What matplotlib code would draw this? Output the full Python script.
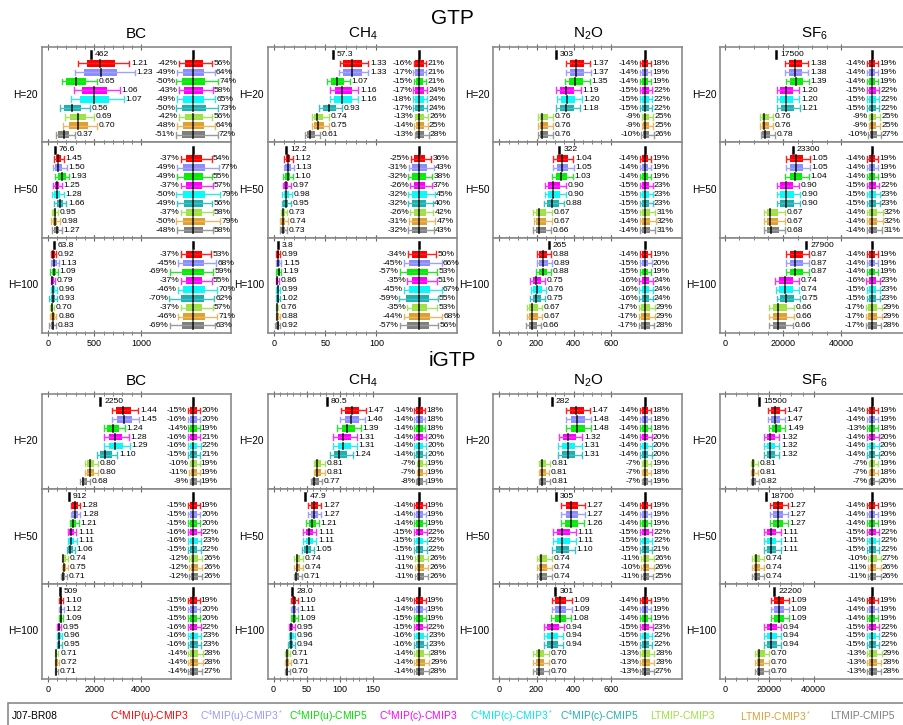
import matplotlib.pyplot as plt
from matplotlib import font_manager
from matplotlib.patches import Rectangle
from matplotlib.transforms import blended_transform_factory

W, H = 904, 725

installed = {f.name for f in font_manager.fontManager.ttflist}
NARROW = 'Liberation Sans Narrow' if 'Liberation Sans Narrow' in installed else 'Liberation Sans'
plt.rcParams['font.family'] = ['Liberation Sans', 'DejaVu Sans']
plt.rcParams['mathtext.fontset'] = 'custom'
plt.rcParams['mathtext.rm'] = 'Liberation Sans'
plt.rcParams['mathtext.it'] = 'Liberation Sans'

# ---------------------------------------------------------------- data
labels = ['J07-BR08', r'C$^4$MIP(u)-CMIP3', r'C$^4$MIP(u)-CMIP3$^*$', r'C$^4$MIP(u)-CMIP5',
          r'C$^4$MIP(c)-CMIP3', r'C$^4$MIP(c)-CMIP3$^*$', r'C$^4$MIP(c)-CMIP5',
          'LTMIP-CMIP3', r'LTMIP-CMIP3$^*$', 'LTMIP-CMIP5']
horizons = ['H=20', 'H=50', 'H=100']

# reference (J07-BR08) values, one per horizon
gtp_bc_ref = ['462', '76.6', '63.8']
gtp_ch4_ref = ['57.3', '12.2', '3.8']
gtp_n2o_ref = ['303', '322', '265']
gtp_sf6_ref = ['17500', '23300', '27900']
igtp_bc_ref = ['2250', '912', '509']
igtp_ch4_ref = ['80.5', '47.9', '28.0']
igtp_n2o_ref = ['282', '305', '301']
igtp_sf6_ref = ['15500', '18700', '22200']

# model median / reference
gtp_bc_ratio = [[1.21, 1.23, 0.65, 1.06, 1.07, 0.56, 0.69, 0.70, 0.37],
                [1.45, 1.50, 1.93, 1.25, 1.28, 1.66, 0.95, 0.98, 1.27],
                [0.92, 1.13, 1.09, 0.79, 0.96, 0.93, 0.70, 0.86, 0.83]]
gtp_ch4_ratio = [[1.33, 1.33, 1.07, 1.16, 1.16, 0.93, 0.74, 0.75, 0.61],
                 [1.12, 1.13, 1.10, 0.97, 0.98, 0.95, 0.73, 0.74, 0.73],
                 [0.99, 1.15, 1.19, 0.86, 0.99, 1.02, 0.76, 0.88, 0.92]]
gtp_n2o_ratio = [[1.37, 1.37, 1.35, 1.19, 1.20, 1.18, 0.76, 0.76, 0.76],
                 [1.04, 1.05, 1.03, 0.90, 0.90, 0.88, 0.67, 0.67, 0.66],
                 [0.88, 0.89, 0.88, 0.75, 0.76, 0.75, 0.67, 0.67, 0.66]]
gtp_sf6_ratio = [[1.38, 1.38, 1.39, 1.20, 1.20, 1.21, 0.76, 0.76, 0.78],
                 [1.05, 1.05, 1.04, 0.90, 0.90, 0.90, 0.67, 0.67, 0.68],
                 [0.87, 0.87, 0.87, 0.74, 0.74, 0.75, 0.66, 0.66, 0.66]]
igtp_bc_ratio = [[1.44, 1.45, 1.24, 1.28, 1.29, 1.10, 0.80, 0.80, 0.68],
                 [1.28, 1.28, 1.21, 1.11, 1.11, 1.06, 0.74, 0.75, 0.71],
                 [1.10, 1.12, 1.09, 0.95, 0.96, 0.95, 0.71, 0.72, 0.71]]
igtp_ch4_ratio = [[1.47, 1.46, 1.39, 1.31, 1.31, 1.24, 0.81, 0.81, 0.77],
                  [1.27, 1.27, 1.21, 1.11, 1.11, 1.05, 0.74, 0.74, 0.71],
                  [1.10, 1.11, 1.09, 0.95, 0.96, 0.94, 0.71, 0.71, 0.70]]
igtp_n2o_ratio = [[1.47, 1.48, 1.48, 1.32, 1.31, 1.31, 0.81, 0.81, 0.81],
                  [1.27, 1.27, 1.26, 1.11, 1.11, 1.10, 0.74, 0.74, 0.74],
                  [1.09, 1.09, 1.08, 0.94, 0.94, 0.94, 0.70, 0.70, 0.70]]
igtp_sf6_ratio = [[1.47, 1.47, 1.49, 1.32, 1.32, 1.32, 0.81, 0.81, 0.82],
                  [1.27, 1.27, 1.27, 1.11, 1.11, 1.11, 0.74, 0.74, 0.74],
                  [1.09, 1.09, 1.09, 0.94, 0.94, 0.94, 0.70, 0.70, 0.70]]

# whisker range relative to the median (%)
gtp_bc_lo = [[-42, -49, -50, -43, -49, -50, -42, -48, -51],
             [-37, -49, -49, -37, -50, -49, -37, -50, -48],
             [-37, -45, -69, -37, -46, -70, -37, -46, -69]]
gtp_bc_hi = [[56, 64, 74, 58, 65, 73, 56, 64, 72],
             [54, 77, 55, 57, 79, 56, 58, 79, 58],
             [53, 68, 59, 55, 70, 62, 57, 71, 63]]
gtp_ch4_lo = [[-16, -17, -15, -17, -18, -17, -13, -14, -13],
              [-25, -31, -32, -26, -32, -32, -26, -31, -32],
              [-34, -45, -57, -35, -45, -59, -35, -44, -57]]
gtp_ch4_hi = [[21, 21, 21, 24, 24, 24, 26, 25, 28],
              [36, 43, 38, 37, 45, 40, 42, 47, 43],
              [50, 66, 53, 51, 67, 55, 53, 68, 56]]
gtp_n2o_lo = [[-14, -14, -14, -15, -15, -15, -9, -9, -10],
              [-14, -14, -14, -15, -15, -15, -15, -14, -14],
              [-14, -15, -15, -16, -16, -16, -17, -17, -17]]
gtp_n2o_hi = [[18, 19, 19, 22, 22, 22, 25, 25, 26],
              [19, 19, 19, 23, 23, 23, 31, 32, 31],
              [19, 20, 19, 24, 24, 24, 29, 29, 28]]
gtp_sf6_lo = [[-14, -14, -14, -15, -15, -15, -9, -9, -10],
              [-14, -14, -14, -15, -15, -15, -14, -14, -14],
              [-14, -14, -14, -16, -15, -15, -17, -17, -17]]
gtp_sf6_hi = [[19, 19, 19, 22, 22, 22, 25, 25, 27],
              [19, 19, 19, 22, 23, 23, 32, 32, 31],
              [19, 19, 19, 23, 23, 23, 29, 29, 28]]
igtp_bc_lo = [[-15, -16, -14, -16, -16, -15, -10, -11, -9],
              [-15, -15, -15, -16, -16, -15, -12, -12, -12],
              [-15, -15, -15, -16, -16, -16, -14, -14, -14]]
igtp_bc_hi = [[20, 20, 19, 21, 22, 21, 19, 19, 19],
              [19, 20, 20, 22, 23, 22, 26, 26, 26],
              [19, 20, 20, 22, 23, 23, 28, 28, 27]]
igtp_ch4_lo = [[-14, -14, -14, -14, -14, -14, -7, -7, -8],
               [-14, -14, -14, -15, -15, -15, -11, -11, -11],
               [-14, -14, -15, -15, -16, -16, -14, -14, -14]]
igtp_ch4_hi = [[18, 18, 18, 20, 20, 20, 19, 19, 19],
               [19, 19, 19, 22, 22, 22, 26, 26, 26],
               [19, 19, 19, 22, 23, 23, 28, 29, 28]]
igtp_n2o_lo = [[-14, -14, -14, -14, -14, -14, -7, -7, -7],
               [-14, -14, -14, -15, -15, -15, -11, -10, -11],
               [-14, -14, -14, -15, -15, -15, -13, -13, -13]]
igtp_n2o_hi = [[18, 18, 18, 20, 20, 20, 19, 18, 19],
               [19, 19, 19, 22, 22, 21, 26, 26, 25],
               [19, 19, 19, 23, 22, 22, 28, 28, 27]]
igtp_sf6_lo = [[-14, -14, -13, -14, -14, -14, -7, -7, -7],
               [-14, -14, -14, -15, -15, -15, -10, -11, -11],
               [-14, -14, -14, -15, -15, -15, -13, -13, -13]]
igtp_sf6_hi = [[19, 19, 18, 20, 20, 20, 19, 18, 20],
               [19, 19, 19, 22, 22, 22, 27, 26, 26],
               [19, 19, 19, 22, 22, 22, 29, 28, 28]]

# inner box range relative to the median (%)
gtp_bc_blo = [[-24, -31, -34, -26, -31, -34, -24, -31, -34],
              [-20, -31, -26, -20, -31, -26, -20, -31, -26],
              [-22, -29, -34, -22, -29, -37, -22, -29, -34]]
gtp_bc_bhi = [[29, 31, 36, 29, 32, 37, 29, 32, 34],
              [25, 34, 29, 25, 36, 29, 25, 36, 29],
              [25, 32, 31, 25, 34, 31, 25, 34, 31]]
gtp_ch4_blo = [[-11, -11, -10, -11, -12, -11, -8, -9, -8],
               [-15, -20, -20, -15, -20, -20, -15, -20, -20],
               [-21, -29, -37, -22, -29, -40, -22, -30, -37]]
gtp_ch4_bhi = [[13, 13, 12, 14, 14, 14, 14, 14, 15],
               [17, 22, 19, 17, 24, 20, 19, 24, 22],
               [22, 31, 26, 22, 33, 28, 23, 33, 28]]
gtp_n2o_blo = [[-8, -8, -8, -9, -9, -9, -5, -5, -6],
               [-8, -8, -8, -9, -9, -9, -9, -8, -8],
               [-8, -9, -9, -9, -9, -9, -10, -10, -10]]
gtp_n2o_bhi = [[10, 10, 10, 12, 12, 12, 13, 13, 14],
               [10, 10, 10, 13, 13, 13, 17, 17, 17],
               [10, 11, 10, 13, 13, 13, 16, 16, 15]]
gtp_sf6_blo = [[-8, -8, -8, -9, -9, -9, -5, -5, -6],
               [-8, -8, -8, -9, -9, -9, -8, -8, -8],
               [-8, -8, -8, -9, -9, -9, -10, -10, -10]]
gtp_sf6_bhi = [[10, 10, 10, 12, 12, 12, 13, 13, 15],
               [10, 10, 10, 12, 13, 13, 17, 17, 17],
               [10, 10, 10, 13, 13, 13, 16, 16, 15]]
igtp_bc_blo = [[-9, -9, -8, -9, -9, -9, -6, -6, -5],
               [-9, -9, -9, -9, -9, -9, -7, -7, -7],
               [-9, -9, -9, -9, -9, -9, -8, -8, -8]]
igtp_bc_bhi = [[11, 11, 10, 11, 12, 11, 10, 10, 10],
               [10, 11, 11, 12, 13, 12, 14, 14, 14],
               [10, 11, 11, 12, 13, 13, 15, 15, 15]]
igtp_ch4_blo = [[-8, -8, -8, -8, -8, -8, -4, -4, -5],
                [-8, -8, -8, -9, -9, -9, -6, -6, -6],
                [-8, -8, -9, -9, -9, -9, -8, -8, -8]]
igtp_ch4_bhi = [[10, 10, 10, 11, 11, 11, 10, 10, 10],
                [10, 10, 10, 12, 12, 12, 14, 14, 14],
                [10, 10, 10, 12, 13, 13, 15, 16, 15]]
igtp_n2o_blo = [[-8, -8, -8, -8, -8, -8, -4, -4, -4],
                [-8, -8, -8, -9, -9, -9, -6, -6, -6],
                [-8, -8, -8, -9, -9, -9, -7, -7, -7]]
igtp_n2o_bhi = [[10, 10, 10, 11, 11, 11, 10, 10, 10],
                [10, 10, 10, 12, 12, 12, 14, 14, 14],
                [10, 10, 10, 13, 12, 12, 15, 15, 15]]
igtp_sf6_blo = [[-8, -8, -8, -8, -8, -8, -4, -4, -4],
                [-8, -8, -8, -9, -9, -9, -6, -6, -6],
                [-8, -8, -8, -9, -9, -9, -7, -7, -7]]
igtp_sf6_bhi = [[10, 10, 10, 11, 11, 11, 10, 10, 11],
                [10, 10, 10, 12, 12, 12, 15, 14, 14],
                [10, 10, 10, 12, 12, 12, 16, 15, 15]]

# ---------------------------------------------------------------- style
box_colors = ['#000000', '#ff0000', '#8c8cff', '#00f000', '#ff00ff',
              '#00ffff', '#1eb0b0', '#a0e040', '#e0a030', '#7f7f7f']
whisk_colors = ['#000000', '#ff2020', '#a0a0ff', '#30e030', '#ff30ff',
                '#30e8e8', '#40c0c0', '#a8e060', '#e8b868', '#9a9a9a']
text_colors = ['#000000', '#ff0000', '#9a9aff', '#00e000', '#ff00ff',
               '#00e8e8', '#20b0b0', '#a0e040', '#e0a030', '#808080']
SPINE = '#8a8a8a'
FS = 6.1          # label size inside the panels
K = 0.0018        # axes fraction per percent on the relative side
XC = 0.80         # axes fraction of the relative-side centre

panels = [
    # (row, col, title, ref, ratio, lo, hi, blo, bhi, xlim, majors, minor step)
    (0, 0, 'BC', gtp_bc_ref, gtp_bc_ratio, gtp_bc_lo, gtp_bc_hi, gtp_bc_blo, gtp_bc_bhi,
     (-61, 1960), [0, 500, 1000], 100),
    (0, 1, 'CH$_4$', gtp_ch4_ref, gtp_ch4_ratio, gtp_ch4_lo, gtp_ch4_hi, gtp_ch4_blo, gtp_ch4_bhi,
     (-5.8, 178.6), [0, 50, 100], 10),
    (0, 2, 'N$_2$O', gtp_n2o_ref, gtp_n2o_ratio, gtp_n2o_lo, gtp_n2o_hi, gtp_n2o_blo, gtp_n2o_bhi,
     (-32, 987), [0, 200, 400, 600], 50),
    (0, 3, 'SF$_6$', gtp_sf6_ref, gtp_sf6_ratio, gtp_sf6_lo, gtp_sf6_hi, gtp_sf6_blo, gtp_sf6_bhi,
     (-1475, 63465), [0, 20000, 40000], 5000),
    (1, 0, 'BC', igtp_bc_ref, igtp_bc_ratio, igtp_bc_lo, igtp_bc_hi, igtp_bc_blo, igtp_bc_bhi,
     (-246, 7875), [0, 2000, 4000], 400),
    (1, 1, 'CH$_4$', igtp_ch4_ref, igtp_ch4_ratio, igtp_ch4_lo, igtp_ch4_hi, igtp_ch4_blo, igtp_ch4_bhi,
     (-8.5, 278), [0, 50, 100, 150], 10),
    (1, 2, 'N$_2$O', igtp_n2o_ref, igtp_n2o_ratio, igtp_n2o_lo, igtp_n2o_hi, igtp_n2o_blo, igtp_n2o_bhi,
     (-32, 987), [0, 200, 400, 600], 50),
    (1, 3, 'SF$_6$', igtp_sf6_ref, igtp_sf6_ratio, igtp_sf6_lo, igtp_sf6_hi, igtp_sf6_blo, igtp_sf6_bhi,
     (-1930, 83150), [0, 20000, 40000], 5000),
]

col_left = [42, 268, 493.5, 720.5]
col_width = 189
row_top = [47, 394]
row_height = [286, 285]


def box_row(ax, y, med, wlo, whi, blo, bhi, fc, wc, trans, bh=0.76, ch=0.62):
    ax.plot([wlo, whi], [y, y], color=wc, lw=1.0, transform=trans, solid_capstyle='butt')
    ax.plot([wlo, wlo], [y - ch / 2, y + ch / 2], color=wc, lw=1.0, transform=trans)
    ax.plot([whi, whi], [y - ch / 2, y + ch / 2], color=wc, lw=1.0, transform=trans)
    ax.add_patch(Rectangle((blo, y - bh / 2), bhi - blo, bh, fc=fc, ec='none', transform=trans))
    ax.plot([med, med], [y - bh / 2, y + bh / 2], color='k', lw=1.2, alpha=0.85, transform=trans)


fig = plt.figure(figsize=(W / 100, H / 100), dpi=100)

fig.text(0.5, 1 - 18 / H, 'GTP', ha='center', va='center', fontsize=15)
fig.text(0.5, 1 - 360 / H, 'iGTP', ha='center', va='center', fontsize=15)

for row, col, title, ref, ratio, lo, hi, blo, bhi, xlim, majors, mstep in panels:
    left = col_left[col]
    top = row_top[row]
    sub_h = row_height[row] / 3
    fig.text((left + col_width / 2) / W, 1 - (top - 13) / H, title,
             ha='center', va='center', fontsize=11)
    minors = [m for m in range(0, majors[-1] + 1, mstep) if m not in majors]
    for k in range(3):
        ax = fig.add_axes([left / W, 1 - (top + (k + 1) * sub_h) / H,
                           col_width / W, sub_h / H])
        trans_r = blended_transform_factory(ax.transAxes, ax.transData)
        ref_val = float(ref[k])

        # reference marker, absolute and relative side
        ax.plot([ref_val, ref_val], [9 - 0.36, 9 + 0.36], color='k', lw=1.8)
        ax.annotate(ref[k], (ref_val, 9), xytext=(3, 0), textcoords='offset points',
                    ha='left', va='center', fontsize=FS, family=NARROW)
        ax.plot([XC, XC], [9 - 0.36, 9 + 0.36], color='k', lw=1.8, transform=trans_r)

        for i in range(9):
            y = 8 - i
            med = ratio[k][i] * ref_val
            fc, wc = box_colors[i + 1], whisk_colors[i + 1]
            # absolute values
            box_row(ax, y, med, med * (1 + lo[k][i] / 100), med * (1 + hi[k][i] / 100),
                    med * (1 + blo[k][i] / 100), med * (1 + bhi[k][i] / 100),
                    fc, wc, ax.transData)
            ax.annotate(f'{ratio[k][i]:.2f}', (med * (1 + hi[k][i] / 100), y),
                        xytext=(1.2, 0), textcoords='offset points',
                        ha='left', va='center', fontsize=FS, family=NARROW)
            # relative spread around the median
            box_row(ax, y, XC, XC + K * lo[k][i], XC + K * hi[k][i],
                    XC + K * blo[k][i], XC + K * bhi[k][i], fc, wc, trans_r)
            ax.annotate(f'{lo[k][i]}%', (XC + K * lo[k][i], y), xycoords=trans_r,
                        xytext=(-0.8, 0), textcoords='offset points',
                        ha='right', va='center', fontsize=FS, family=NARROW)
            ax.annotate(f'{hi[k][i]}%', (XC + K * hi[k][i], y), xycoords=trans_r,
                        xytext=(0.8, 0), textcoords='offset points',
                        ha='left', va='center', fontsize=FS, family=NARROW)

        ax.set_xlim(*xlim)
        ax.set_ylim(-0.85, 9.85)
        ax.set_yticks([])
        ax.set_xticks(majors)
        ax.set_xticks(minors, minor=True)
        ax.set_xticklabels([str(m) for m in majors])
        ax.tick_params(axis='x', which='both', direction='inout', top=True, bottom=True,
                       color='#666666', labelsize=6.5, pad=1.5)
        ax.tick_params(axis='x', which='major', length=5, width=0.8)
        ax.tick_params(axis='x', which='minor', length=3, width=0.6)
        if k < 2:
            ax.tick_params(axis='x', labelbottom=False)
        for s in ax.spines.values():
            s.set_color(SPINE)
            s.set_linewidth(1.2)
        ax.text(-4 / col_width, 0.5, horizons[k], transform=ax.transAxes,
                ha='right', va='center', fontsize=7.3, family=NARROW)

# legend strip along the bottom
fig.patches.append(Rectangle((8 / W, -0.02), 1.0, 0.02 + 1 - 703 / H, transform=fig.transFigure,
                             fill=False, ec=SPINE, lw=1.2))
legend_x = [12, 110, 200, 289, 379, 470, 560, 650, 740, 830]
for name, tc, lx in zip(labels, text_colors, legend_x):
    fig.text(lx / W, 1 - 716 / H, name, color=tc, ha='left', va='center',
             fontsize=7.4, family=NARROW)

fig.savefig('out.png', dpi=100)
